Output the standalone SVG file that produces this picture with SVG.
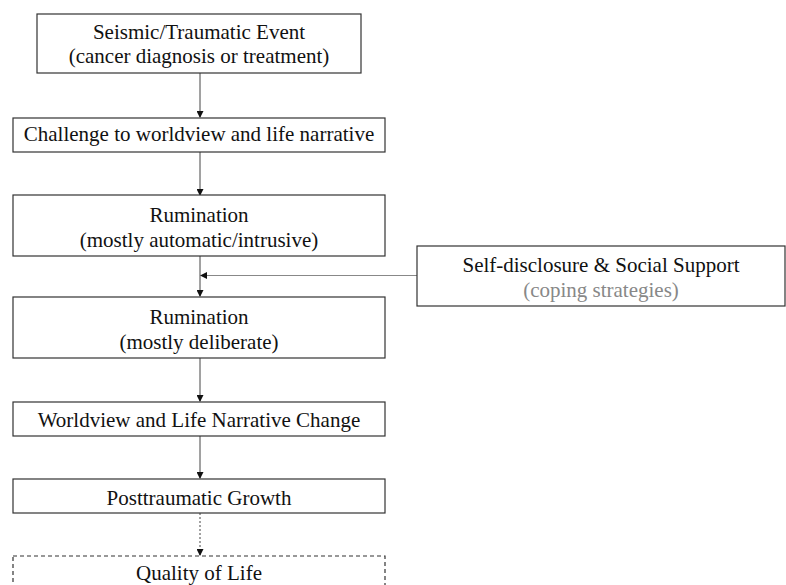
<svg xmlns="http://www.w3.org/2000/svg" width="786" height="585" viewBox="0 0 786 585">
<style>
.box{fill:#fff;stroke:#333;stroke-width:1.2}
.dash{stroke-dasharray:4 3}
.t{font-family:"Liberation Serif","Times New Roman",serif;font-size:21px;fill:#111;text-anchor:middle}
.g{fill:#888}
.c{stroke:#444;stroke-width:1;fill:none}
.cg{stroke:#888;stroke-width:1;fill:none}
</style>
<defs>
<marker id="ah" markerWidth="7" markerHeight="7" refX="6" refY="3.5" orient="auto" markerUnits="userSpaceOnUse">
<path d="M0,0 L7,3.5 L0,7 Z" fill="#111"/>
</marker>
</defs>
<rect width="786" height="585" fill="#fff"/>
<g id="connectors">
<line class="c" x1="200" y1="73" x2="200" y2="117" marker-end="url(#ah)"/>
<line class="c" x1="200" y1="152" x2="200" y2="195" marker-end="url(#ah)"/>
<line class="c" x1="200" y1="256" x2="200" y2="296" marker-end="url(#ah)"/>
<line class="cg" x1="417" y1="275.5" x2="201" y2="275.5" marker-end="url(#ah)"/>
<line class="c" x1="200" y1="358" x2="200" y2="401" marker-end="url(#ah)"/>
<line class="c" x1="200" y1="436" x2="200" y2="478" marker-end="url(#ah)"/>
<line class="c" x1="200" y1="513" x2="200" y2="555" stroke-dasharray="2 2" marker-end="url(#ah)"/>
</g>
<g id="n1">
<rect class="box" x="37" y="14" width="324" height="59"/>
<text class="t" x="199" y="39">Seismic/Traumatic Event</text>
<text class="t" x="199" y="63">(cancer diagnosis or treatment)</text>
</g>
<g id="n2">
<rect class="box" x="13" y="118" width="372" height="34"/>
<text class="t" x="199" y="141">Challenge to worldview and life narrative</text>
</g>
<g id="n3">
<rect class="box" x="13" y="195" width="372" height="61"/>
<text class="t" x="199" y="222">Rumination</text>
<text class="t" x="199" y="247">(mostly automatic/intrusive)</text>
</g>
<g id="n4">
<rect class="box" x="13" y="297" width="372" height="61"/>
<text class="t" x="199" y="324">Rumination</text>
<text class="t" x="199" y="349">(mostly deliberate)</text>
</g>
<g id="n5">
<rect class="box" x="417" y="246" width="368" height="60"/>
<text class="t" x="601" y="272">Self-disclosure &amp; Social Support</text>
<text class="t g" x="601" y="297">(coping strategies)</text>
</g>
<g id="n6">
<rect class="box" x="13" y="402" width="372" height="34"/>
<text class="t" x="199" y="427">Worldview and Life Narrative Change</text>
</g>
<g id="n7">
<rect class="box" x="13" y="479" width="372" height="34"/>
<text class="t" x="199" y="505">Posttraumatic Growth</text>
</g>
<g id="n8">
<rect class="box dash" x="13" y="556" width="372" height="40"/>
<text class="t" x="199" y="580">Quality of Life</text>
</g>
</svg>
